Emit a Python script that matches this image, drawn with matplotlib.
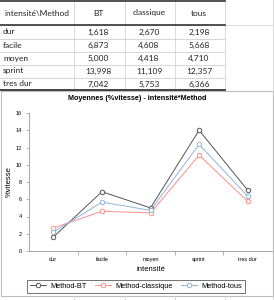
import matplotlib
matplotlib.use('Agg')
import matplotlib.pyplot as plt
from matplotlib.lines import Line2D

# data
categories = ['dur', 'facile', 'moyen', 'sprint', 'tres dur']
methods = ['BT', 'classique', 'tous']
bt = [1.618, 6.873, 5.000, 13.998, 7.042]
classique = [2.670, 4.608, 4.418, 11.109, 5.753]
tous = [2.198, 5.668, 4.710, 12.357, 6.366]
y_ticks = [0, 2, 4, 6, 8, 10, 12, 14, 16]

W, H = 274, 300
fig = plt.figure(figsize=(W / 100, H / 100), dpi=100)
fig.patch.set_facecolor('white')

# pixel-coordinate overlay for the spreadsheet part
bg = fig.add_axes([0, 0, 1, 1])
bg.set_xlim(0, W)
bg.set_ylim(H, 0)
bg.axis('off')

tfont = dict(family='Lato', fontsize=6.0, color='#222222')

# spreadsheet grid lines
for x in [74, 125, 175, 225, 273]:
    bg.plot([x, x], [0, 90], color='#d4d4d4', lw=0.6)
    bg.plot([x, x], [296, 300], color='#d4d4d4', lw=0.6)
for y in [38.5, 51.5, 64.5, 77.5]:
    bg.plot([0, 225], [y, y], color='#d0d0d0', lw=0.6)
bg.plot([0, 274], [25, 25], color='#d4d4d4', lw=0.6)
bg.plot([0, 225], [0.8, 0.8], color='#333333', lw=1.2)
bg.plot([0, 225], [25, 25], color='#333333', lw=1.2)
bg.plot([0, 225], [89.5, 89.5], color='#333333', lw=1.3)

col_x = [98, 149, 199]
bg.text(5, 13, 'intensité\\Method', ha='left', va='center', **tfont)
for cx, m in zip(col_x, methods):
    bg.text(cx, 13, m, ha='center', va='center', **tfont)
series = [bt, classique, tous]
for i, cat in enumerate(categories):
    ry = 32 + 13 * i
    bg.text(3, ry, cat, ha='left', va='center', **tfont)
    for cx, s in zip(col_x, series):
        bg.text(cx, ry, f'{s[i]:,.3f}'.replace('.', ','), ha='center', va='center', **tfont)

# chart box
bg.add_patch(plt.Rectangle((1, 90.5), 272, 205.5, fill=False, edgecolor='#bdbdbd', lw=0.8))
bg.text(137, 99, 'Moyennes (%vitesse) - intensité*Method', ha='center', va='center',
        family='Liberation Sans', fontsize=5.2, fontweight='bold')

# plot area
ax = fig.add_axes([29 / W, (H - 251) / H, 243 / W, (251 - 113) / H])
xs = list(range(len(categories)))
styles = [('Method-BT', bt, '#555555'),
          ('Method-classique', classique, '#ff8c8c'),
          ('Method-tous', tous, '#8fb4d8')]
for label, vals, c in styles:
    ax.plot(xs, vals, color=c, lw=0.7, marker='o', ms=3.2, mfc='white', mec=c, mew=0.7, label=label)

ax.set_xlim(-0.5, len(categories) - 0.5)
ax.set_ylim(0, 16)
ax.set_yticks(y_ticks)
ax.set_xticks(xs)
ax.set_xticklabels(categories)
ax.set_xticks([i + 0.5 for i in xs[:-1]], minor=True)
ax.tick_params(axis='x', which='major', length=0, pad=7.3, labelsize=4.0)
ax.tick_params(axis='x', which='minor', length=3, width=0.5, color='#999999')
ax.tick_params(axis='y', length=2, width=0.5, color='#999999', labelsize=4.0, pad=3)
for lab in ax.get_xticklabels():
    lab.set_va('baseline')
for sp in ['top', 'right']:
    ax.spines[sp].set_visible(False)
for sp in ['left', 'bottom']:
    ax.spines[sp].set_color('#999999')
    ax.spines[sp].set_linewidth(0.6)
for lab in ax.get_xticklabels() + ax.get_yticklabels():
    lab.set_family('Liberation Sans')
ax.set_xlabel('intensité', family='Liberation Sans', fontsize=5.5, labelpad=2.5)
ax.set_ylabel('%vitesse', family='Liberation Sans', fontsize=5.5, labelpad=2)

handles = [Line2D([0], [0], color=c, lw=0.7, marker='o', ms=3.2, mfc='white', mec=c, mew=0.7)
           for _, _, c in styles]
leg = fig.legend(handles, [s[0] for s in styles], loc='center', bbox_to_anchor=(136 / W, 1 - 286.5 / H),
                 ncol=3, frameon=True, fancybox=False, handlelength=2.2,
                 columnspacing=1.2, handletextpad=0.5, borderpad=0.4,
                 prop={'family': 'Liberation Sans', 'size': 5.3})
leg.get_frame().set_edgecolor('#333333')
leg.get_frame().set_linewidth(0.6)

fig.savefig('out.png', dpi=100, facecolor='white')
